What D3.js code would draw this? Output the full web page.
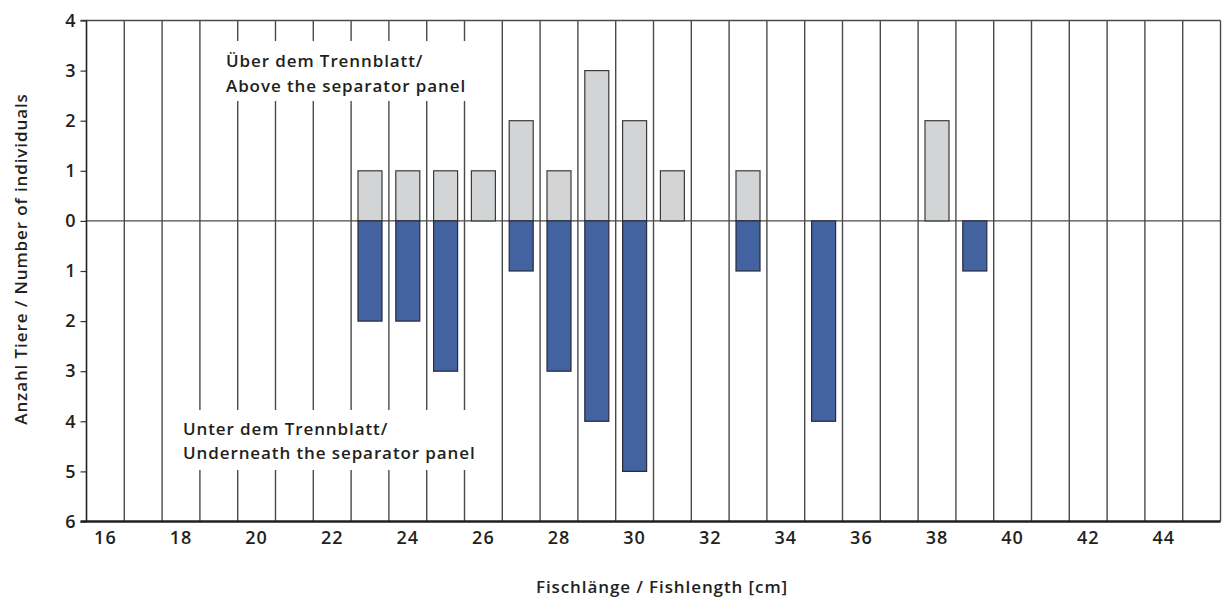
<!DOCTYPE html>
<html>
<head>
<meta charset="utf-8">
<script src="https://cdn.jsdelivr.net/npm/d3@7"></script>
<style>
  html, body { margin: 0; padding: 0; background: #fff; }
  svg { display: block; }
  text { font-family: "Open Sans", "Noto Sans", sans-serif; font-weight: 600; fill: #231f20; letter-spacing: 0.9px; }
</style>
</head>
<body>
<svg id="chart" width="1223" height="601"></svg>
<script>
// ---- data ----
const lengths = [16,17,18,19,20,21,22,23,24,25,26,27,28,29,30,31,32,33,34,35,36,37,38,39,40,41,42,43,44,45];
const tickLengths = [16,18,20,22,24,26,28,30,32,34,36,38,40,42,44];
const aboveLengths = [23,24,25,26,27,28,29,30,31,33,38];
const aboveCounts  = [1, 1, 1, 1, 2, 1, 3, 2, 1, 1, 2];
const belowLengths = [23,24,25,27,28,29,30,33,35,39];
const belowCounts  = [2, 2, 3, 1, 3, 4, 5, 1, 4, 1];
const yTicks = [4,3,2,1,0,-1,-2,-3,-4,-5,-6];
const labelAbove = ["Über dem Trennblatt/", "Above the separator panel"];
const labelBelow = ["Unter dem Trennblatt/", "Underneath the separator panel"];
const xTitle = "Fischlänge / Fishlength [cm]";
const yTitle = "Anzahl Tiere / Number of individuals";

(function () {
const svg = d3.select("#chart");
const pL = 86.5, pR = 1220.5, pT = 20.5, pB = 521.5;
const FS = "17px", TFS = "18px";

const x = d3.scaleBand().domain(lengths).range([pL, pR]).padding(0);
const y = d3.scaleLinear().domain([-6, 4]).range([pB, pT]);
const barW = x.bandwidth() * 0.635;

// vertical gridlines at column boundaries
const bounds = lengths.slice(1).map(d => x(d)).concat([pR]);
svg.append("g").selectAll("line").data(bounds).join("line")
  .attr("x1", d => d).attr("x2", d => d)
  .attr("y1", pT).attr("y2", pB)
  .attr("stroke", "#4a4a4a").attr("stroke-width", 1.4);

// top line & zero line
svg.append("line").attr("x1", pL - 6).attr("x2", pR).attr("y1", y(4)).attr("y2", y(4))
  .attr("stroke", "#4a4a4a").attr("stroke-width", 1.4);
svg.append("line").attr("x1", pL).attr("x2", pR).attr("y1", y(0)).attr("y2", y(0))
  .attr("stroke", "#4a4a4a").attr("stroke-width", 1.4);

// bars above
svg.append("g").selectAll("rect").data(aboveLengths).join("rect")
  .attr("x", d => x(d) + (x.bandwidth() - barW) / 2)
  .attr("width", barW)
  .attr("y", (d, i) => y(aboveCounts[i]))
  .attr("height", (d, i) => y(0) - y(aboveCounts[i]))
  .attr("fill", "#d3d4d6").attr("stroke", "#3a3a3a").attr("stroke-width", 1.2);

// bars below
svg.append("g").selectAll("rect").data(belowLengths).join("rect")
  .attr("x", d => x(d) + (x.bandwidth() - barW) / 2)
  .attr("width", barW)
  .attr("y", y(0))
  .attr("height", (d, i) => y(-belowCounts[i]) - y(0))
  .attr("fill", "#4262a0").attr("stroke", "#2a2a3a").attr("stroke-width", 1.2);

// y axis
const yAxis = d3.axisLeft(y).tickValues(yTicks).tickFormat(d => Math.abs(d)).tickSize(6).tickPadding(5);
const gy = svg.append("g").attr("transform", `translate(${pL},0)`).call(yAxis);
gy.select(".domain").remove();
gy.selectAll(".tick line").attr("stroke", "#333").attr("stroke-width", 1.2);
gy.selectAll(".tick text").style("font-size", TFS).style("font-family", "'Open Sans', sans-serif").style("font-weight", 600).style("letter-spacing", "0px").attr("fill", "#231f20");
svg.append("line").attr("x1", pL).attr("x2", pL).attr("y1", pT).attr("y2", pB)
  .attr("stroke", "#231f20").attr("stroke-width", 1.6);

// x axis
const xAxis = d3.axisBottom(x).tickValues(tickLengths).tickSize(0).tickPadding(10);
const gx = svg.append("g").attr("transform", `translate(0,${pB})`).call(xAxis);
gx.select(".domain").remove();
gx.selectAll(".tick text").style("font-size", TFS).style("font-family", "'Open Sans', sans-serif").style("font-weight", 600).style("letter-spacing", "1px").attr("fill", "#231f20");
svg.append("line").attr("x1", pL - 6).attr("x2", pR).attr("y1", pB).attr("y2", pB)
  .attr("stroke", "#231f20").attr("stroke-width", 2.4);

// annotation boxes
svg.append("rect").attr("x", 216).attr("y", 41).attr("width", 262).attr("height", 60).attr("fill", "#fff");
svg.append("rect").attr("x", 174).attr("y", 410).attr("width", 314).attr("height", 60).attr("fill", "#fff");
const ta = svg.append("text").attr("x", 226).attr("y", 67).style("font-size", FS);
labelAbove.forEach((t, i) => ta.append("tspan").attr("x", 226).attr("dy", i ? 25 : 0).text(t));
const tb = svg.append("text").attr("x", 183).attr("y", 435).style("font-size", FS);
labelBelow.forEach((t, i) => tb.append("tspan").attr("x", 183).attr("dy", i ? 23.5 : 0).text(t));

// axis titles
svg.append("text").attr("x", 662).attr("y", 593).attr("text-anchor", "middle").style("font-size", FS).text(xTitle);
svg.append("text").attr("transform", "translate(27,259) rotate(-90)").attr("text-anchor", "middle").style("font-size", FS).text(yTitle);
})();
</script>
</body>
</html>
